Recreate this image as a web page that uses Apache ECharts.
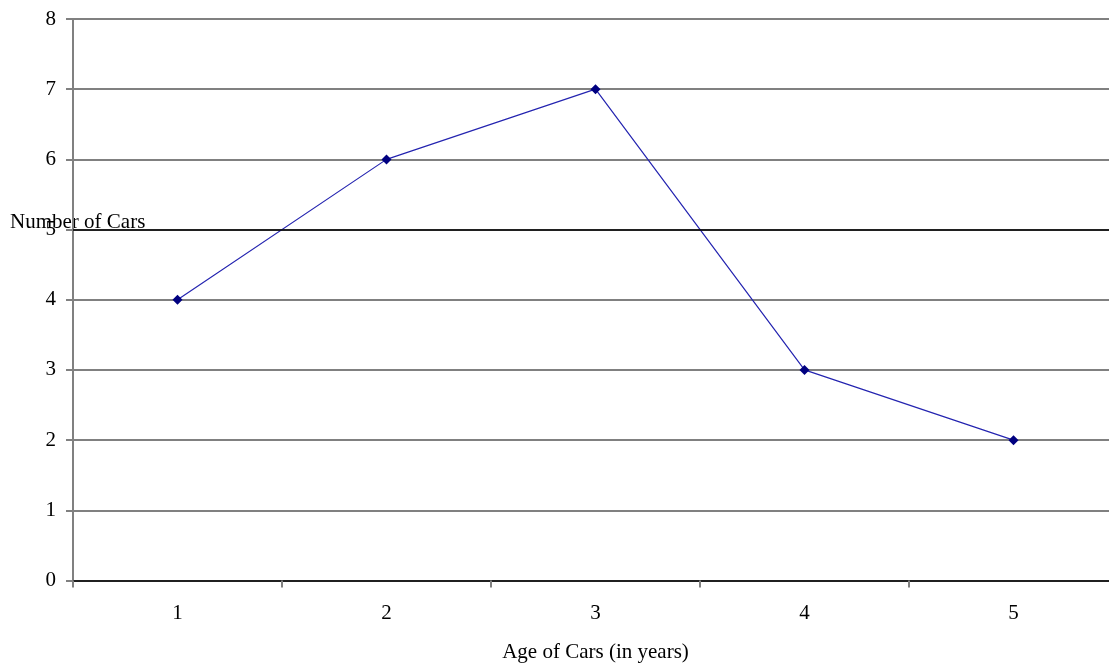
<!DOCTYPE html>
<html>
<head>
<meta charset="utf-8">
<script src="https://cdn.jsdelivr.net/npm/echarts@6/dist/echarts.min.js"></script>
<style>html,body{margin:0;padding:0;background:#fff;}#c{width:1109px;height:663px;}</style>
</head>
<body>
<div id="c"></div>
<script>
const categories = ['1', '2', '3', '4', '5'];
const carCounts = [4, 6, 7, 3, 2];
const yTicks = [0, 1, 2, 3, 4, 5, 6, 7, 8];
const xTitle = 'Age of Cars (in years)';
const yTitle = 'Number of Cars';

const chart = echarts.init(document.getElementById('c'));
const font = 'Liberation Serif, Times New Roman, serif';
chart.setOption({
  animation: false,
  backgroundColor: '#ffffff',
  grid: { left: 73, top: 19, width: 1045, bottom: 82.5, containLabel: false, outerBoundsMode: 'none' },
  xAxis: {
    type: 'category',
    data: categories,
    boundaryGap: true,
    name: xTitle,
    nameLocation: 'middle',
    nameGap: 61,
    nameTextStyle: { fontFamily: font, fontSize: 21, color: '#000' },
    axisLine: { lineStyle: { color: '#000', width: 1.5 } },
    axisTick: { show: true, length: 7, lineStyle: { color: '#808080', width: 2 } },
    axisLabel: { fontFamily: font, fontSize: 21, color: '#000', margin: 22 },
    splitLine: { show: false }
  },
  yAxis: {
    type: 'value',
    min: yTicks[0],
    max: yTicks[yTicks.length - 1],
    interval: 1,
    axisLine: { show: true, lineStyle: { color: '#808080', width: 2 } },
    axisTick: { show: true, length: 7, lineStyle: { color: '#808080', width: 2 } },
    axisLabel: { fontFamily: font, fontSize: 21, color: '#000', margin: 17 },
    splitLine: { show: true, lineStyle: { color: '#808080', width: 2 } }
  },
  graphic: [{
    type: 'text',
    left: 10,
    top: 212,
    style: { text: yTitle, font: '21px ' + font, fill: '#000' }
  }],
  series: [{
    type: 'line',
    data: carCounts,
    symbol: 'diamond',
    symbolSize: 10,
    itemStyle: { color: '#000080' },
    lineStyle: { color: '#2424b0', width: 1.2 },
    markLine: {
      silent: true,
      symbol: 'none',
      label: { show: false },
      lineStyle: { color: '#000', width: 1.5, type: 'solid' },
      data: [{ yAxis: 5 }]
    }
  }]
});
</script>
</body>
</html>
